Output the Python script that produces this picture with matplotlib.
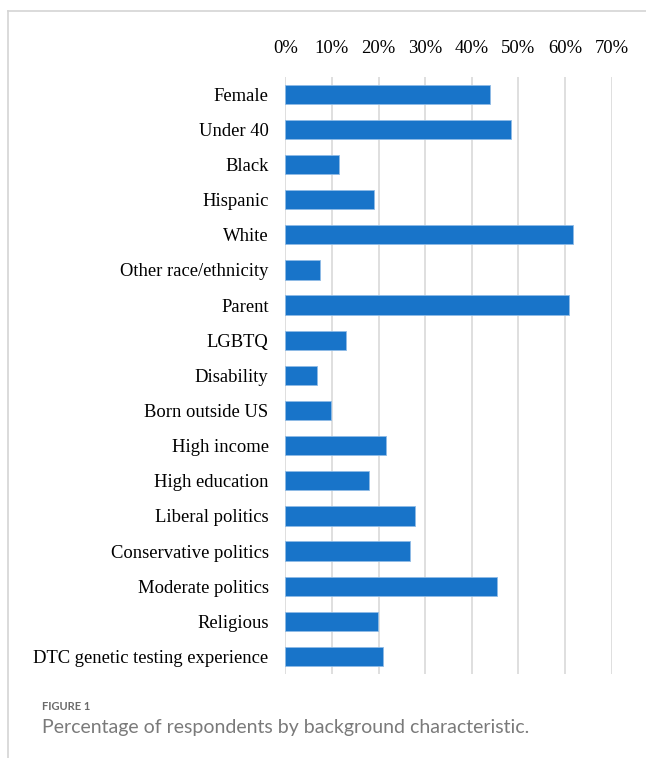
import numpy as np
import matplotlib.pyplot as plt
from matplotlib.lines import Line2D
from matplotlib.ticker import FuncFormatter

categories = ["Female", "Under 40", "Black", "Hispanic", "White",
              "Other race/ethnicity", "Parent", "LGBTQ", "Disability",
              "Born outside US", "High income", "High education",
              "Liberal politics", "Conservative politics",
              "Moderate politics", "Religious",
              "DTC genetic testing experience"]
values = [44.0, 48.3, 11.5, 19.0, 61.8, 7.5, 60.9, 13.0, 6.7,
          9.9, 21.7, 18.0, 27.8, 26.8, 45.3, 19.9, 20.9]
xticks = [0, 10, 20, 30, 40, 50, 60, 70]

fig = plt.figure(figsize=(6.46, 7.58), dpi=100)
ax = fig.add_axes([0.4416, 0.1108, 0.5053, 0.788])

y = np.arange(len(categories))
ax.barh(y, values, height=0.55, color='#1874c9', edgecolor='#8fbbe6',
        linewidth=0.6, zorder=3)
ax.set_ylim(len(categories) - 0.5, -0.5)
ax.set_xlim(0, 70)
ax.set_xticks(xticks)
ax.xaxis.set_major_formatter(FuncFormatter(lambda v, p: '%d%%' % v))
ax.xaxis.tick_top()
ax.set_yticks(y)
ax.set_yticklabels(categories)
ax.grid(axis='x', color='#d9d9d9', linewidth=1.2, zorder=0)
for s in ax.spines.values():
    s.set_visible(False)
ax.tick_params(length=0)
ax.tick_params(axis='y', pad=12, labelsize=13.4)
ax.tick_params(axis='x', pad=14, labelsize=13.4)
for lab in ax.get_xticklabels() + ax.get_yticklabels():
    lab.set_fontfamily('Liberation Serif')

# frame lines of the figure box
fig.add_artist(Line2D([8 / 646, 1], [1 - 11 / 758, 1 - 11 / 758],
                      color='#d4d4d4', linewidth=1.2))
fig.add_artist(Line2D([8 / 646, 8 / 646], [0, 1 - 11 / 758],
                      color='#d4d4d4', linewidth=1.2))

fig.text(42 / 646, 1 - 707 / 758, "FIGURE 1", fontsize=8, color='#6b6b6b',
         fontweight='bold', family='Lato', va='center')
fig.text(42 / 646, 1 - 727 / 758,
         "Percentage of respondents by background characteristic.",
         fontsize=14, color='#7a7a7a', family='Lato', va='center')

fig.savefig('out.png', dpi=100)
